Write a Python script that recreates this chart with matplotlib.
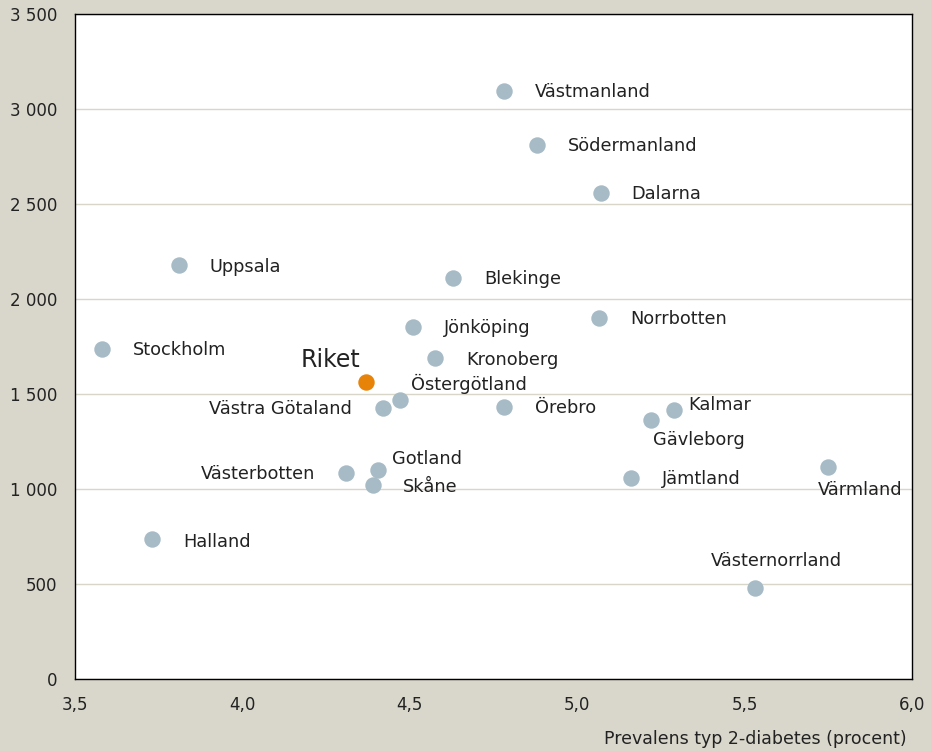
import matplotlib
matplotlib.use("Agg")
import matplotlib.pyplot as plt
from matplotlib.ticker import FuncFormatter, MultipleLocator

plt.rcParams['font.family'] = ['DejaVu Sans']

regions = ["Västmanland", "Södermanland", "Dalarna", "Uppsala", "Blekinge", "Norrbotten",
           "Jönköping", "Stockholm", "Kronoberg", "Östergötland", "Västra Götaland", "Örebro",
           "Kalmar", "Gävleborg", "Gotland", "Västerbotten", "Skåne", "Jämtland", "Värmland",
           "Halland", "Västernorrland"]
prevalence = [4.78, 4.88, 5.07, 3.81, 4.63, 5.065, 4.51, 3.58, 4.575, 4.47, 4.42, 4.78,
              5.29, 5.22, 4.405, 4.31, 4.39, 5.16, 5.75, 3.73, 5.53]
values = [3095, 2810, 2558, 2179, 2111, 1900, 1853, 1737, 1689, 1468, 1426, 1432,
          1416, 1363, 1100, 1084, 1021, 1058, 1116, 737, 479]
riket_x, riket_y = 4.37, 1563

# label placement: (dx px, dy px, ha)
offsets = {
    "Västra Götaland": (-31, -1, 'right'),
    "Västerbotten": (-31, -1, 'right'),
    "Östergötland": (11, 16, 'left'),
    "Kalmar": (14, 5, 'left'),
    "Gävleborg": (2, -20, 'left'),
    "Gotland": (14, 11, 'left'),
    "Skåne": (30, -2, 'left'),
    "Värmland": (32, -23, 'center'),
    "Västernorrland": (22, 27, 'center'),
    "Uppsala": (31, -2, 'left'),
    "Kronoberg": (31, -2, 'left'),
    "Halland": (31, -3, 'left'),
}

bg = '#d9d7cb'
fig = plt.figure(figsize=(9.31, 7.51), dpi=100, facecolor=bg)
ax = fig.add_axes([0.0806, 0.0959, 0.8990, 0.8855])
ax.set_facecolor('white')

ax.scatter(prevalence, values, s=140, color='#a7bbc6', zorder=3, linewidths=0)
ax.scatter([riket_x], [riket_y], s=140, color='#e8830a', zorder=3, linewidths=0)

for name, x, y in zip(regions, prevalence, values):
    dx, dy, ha = offsets.get(name, (31, -1, 'left'))
    ax.annotate(name, (x, y), xytext=(dx * 0.72, dy * 0.72), textcoords='offset points',
                ha=ha, va='center', fontsize=12.8, color='#222222')
ax.annotate("Riket", (riket_x, riket_y), xytext=(-6 * 0.72, 22 * 0.72), textcoords='offset points',
            ha='right', va='center', fontsize=17, color='#222222')

ax.set_xlim(3.5, 6.0)
ax.set_ylim(0, 3500)
ax.xaxis.set_major_locator(MultipleLocator(0.5))
ax.yaxis.set_major_locator(MultipleLocator(500))
ax.xaxis.set_major_formatter(FuncFormatter(lambda v, p: f"{v:.1f}".replace('.', ',')))
ax.yaxis.set_major_formatter(FuncFormatter(lambda v, p: f"{int(v):,}".replace(',', ' ')))
ax.grid(axis='y', color='#d8d6c8', linewidth=1)
ax.set_axisbelow(True)
ax.tick_params(length=0, labelsize=12, colors='#222222', pad=12)
ax.tick_params(axis='y', pad=12.5)
for sp in ax.spines.values():
    sp.set_color('black')
    sp.set_linewidth(1)

ax.set_xlabel("Prevalens typ 2-diabetes (procent)", fontsize=12.5, color='#222222', loc='right')
ax.xaxis.set_label_coords(0.994, -0.077)

fig.savefig("out.png", dpi=100, facecolor=bg)
